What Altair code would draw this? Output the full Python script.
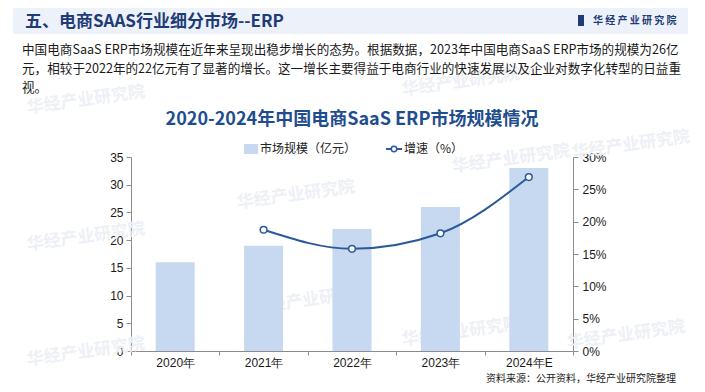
import altair as alt
import pandas as pd

# ---------------- data ----------------
years = ["2020年", "2021年", "2022年", "2023年", "2024年E"]
market = [16, 19, 22, 26, 33]              # 市场规模（亿元）
growth = [None, 0.1875, 0.158, 0.182, 0.269]  # 增速

left_ticks = [0, 5, 10, 15, 20, 25, 30, 35]
right_ticks = [0, 0.05, 0.10, 0.15, 0.20, 0.25, 0.30]

header_title = ["五、电商SAAS行业细分市场--ERP"]
logo_text = ["华 经 产 业 研 究 院"]
para_lines = [
    "中国电商SaaS ERP市场规模在近年来呈现出稳步增长的态势。根据数据，2023年中国电商SaaS ERP市场的规模为26亿",
    "元，相较于2022年的22亿元有了显著的增长。这一增长主要得益于电商行业的快速发展以及企业对数字化转型的日益重",
    "视。",
]
chart_title = ["2020-2024年中国电商SaaS ERP市场规模情况"]
legend_labels = ["市场规模（亿元）", "增速（%）"]
footer = ["资料来源：公开资料，华经产业研究院整理"]
watermark = ["华经产业研究院"]

df = pd.DataFrame({"year": years, "market": market, "growth": growth})

W, H = 442, 194
CJK = "Noto Sans CJK SC"
NUM = "Liberation Sans"
AXIS_C = "#8c8c8c"
BAR_C = "#C6D9F1"
LINE_C = "#2B5A9A"
NAVY = "#1F3C78"

def txt(s, x, y, size=13, color="#222222", bold=False, align="left", font=CJK, angle=0, opacity=1.0):
    return alt.Chart(pd.DataFrame({"t": s})).mark_text(
        align=align, baseline="middle", font=font, fontSize=size,
        fontWeight="bold" if bold else "normal", color=color, angle=angle, opacity=opacity,
    ).encode(text="t:N", x=alt.value(x), y=alt.value(y))

def rect(x1, x2, y1, y2, color):
    return alt.Chart(pd.DataFrame({"a": [0]})).mark_rect(color=color).encode(
        x=alt.value(x1), x2=alt.value(x2), y=alt.value(y1), y2=alt.value(y2))

# watermarks (faint)
wm_layers = []
for (wx, wy) in [(165, 38), (380, 2), (-45, 80), (500, -12), (180, 143), (330, 175), (495, 178), (-45, 195), (-45, -57), (330, -75)]:
    wm_layers.append(txt(watermark, wx, wy, size=17, color="#EDF0F5", bold=True, align="center", angle=352))

header_bg = rect(-118, 557, -149, -123, "#EDF2FA")
header_t = txt(header_title, -106, -135, size=17, color=NAVY, bold=True)
logo_icon = rect(447, 453, -142, -131, NAVY)
logo_t = txt(logo_text, 462, -136, size=10, color=NAVY, bold=True)

para = alt.layer(*[txt([line], -109, yy, size=12.6, color="#1a1a1a") for line, yy in zip(para_lines, [-107, -88, -69])])

title_t = txt(chart_title, 221, -37, size=18, color="#1F4E8F", bold=True, align="center")

leg_sw = rect(113, 127, -13, -3, BAR_C)
leg_t1 = txt([legend_labels[0]], 129, -8, size=12, color="#222222")
leg_line = alt.Chart(pd.DataFrame({"a": [0]})).mark_rule(color=LINE_C, strokeWidth=2).encode(
    x=alt.value(255), x2=alt.value(271), y=alt.value(-8))
leg_pt = alt.Chart(pd.DataFrame({"a": [0]})).mark_point(
    shape="circle", filled=True, fill="white", stroke=LINE_C, strokeWidth=1.5, size=30, opacity=1
).encode(x=alt.value(263), y=alt.value(-8))
leg_t2 = txt([legend_labels[1]], 273, -8, size=12, color="#222222")

footer_t = txt(footer, 355, 222, size=10, color="#222222")

x_enc = alt.X(
    "year:N", sort=years,
    scale=alt.Scale(paddingInner=0, paddingOuter=0),
    axis=alt.Axis(title=None, labelAngle=0, tickBand="extent", domainColor=AXIS_C, tickColor=AXIS_C,
                  tickSize=4, labelFont=NUM, labelFontSize=12, labelColor="#1a1a1a", labelPadding=2),
)

bars = alt.Chart(df).mark_bar(color=BAR_C, size=39).encode(
    x=x_enc,
    y=alt.Y("market:Q", scale=alt.Scale(domain=[0, 35]),
            axis=alt.Axis(title=None, values=left_ticks, grid=False, domainColor=AXIS_C, tickColor=AXIS_C,
                          tickSize=5, labelFont=NUM, labelFontSize=12, labelColor="#1a1a1a", labelPadding=3)),
)

gy = alt.Y("growth:Q", scale=alt.Scale(domain=[0, 0.3]),
           axis=alt.Axis(title=None, orient="right", format=".0%", values=right_ticks, grid=False,
                         domainColor=AXIS_C, tickColor=AXIS_C, tickSize=5, labelFont=NUM, labelFontSize=12,
                         labelColor="#1a1a1a", labelPadding=4))

gbase = alt.Chart(df).transform_filter("datum.growth != null")
gline = gbase.mark_line(color=LINE_C, strokeWidth=2, interpolate="monotone").encode(x=x_enc, y=gy)
gpts = gbase.mark_point(shape="circle", filled=True, fill="white", stroke=LINE_C, strokeWidth=1.5,
                        size=45, opacity=1).encode(x=x_enc, y=gy)
glayer = alt.layer(gline, gpts)

chart = alt.layer(
    header_bg, *wm_layers, header_t, logo_icon, logo_t, para, title_t,
    leg_sw, leg_t1, leg_line, leg_pt, leg_t2, footer_t,
    bars, glayer,
).resolve_scale(y="independent").properties(
    width=W, height=H,
    padding={"left": 123, "top": 149, "right": 124, "bottom": 33},
    autosize=alt.AutoSizeParams(type="none"),
    background="white",
).configure_view(stroke=None)

chart.save("out.html", embed_options={"renderer": "svg", "actions": False})
